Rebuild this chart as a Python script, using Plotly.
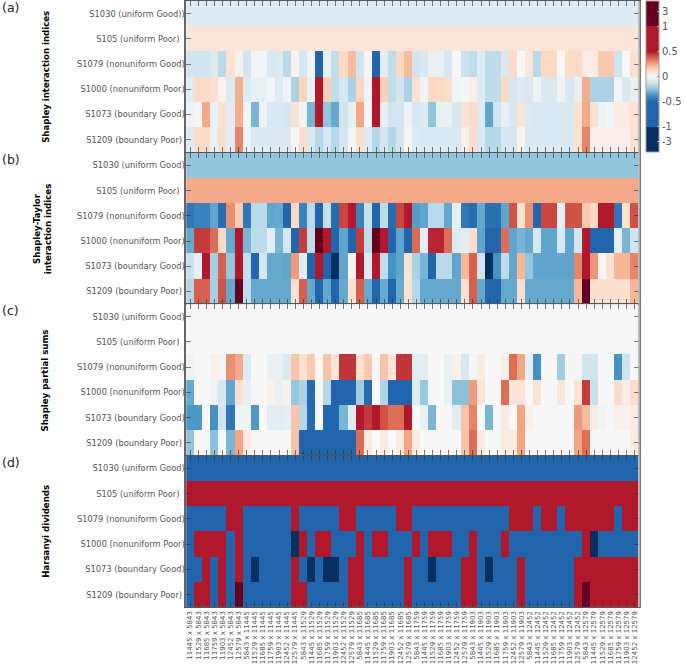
import numpy as np
import plotly.graph_objects as go

genes = [5843, 11445, 11529, 11685, 11759, 11903, 12452, 12579]
pairs = [f"{g} x {h}" for h in genes for g in genes if g != h]

rows_a = ["S1030 (uniform Good))", "S105 (uniform Poor)\u00a0\u00a0", "S1079 (nonuniform Good)",
          "S1000 (nonuniform Poor)", "S1073 (boundary Good)", "S1209 (boundary Poor)\u00a0"]
rows_o = ["S1030 (uniform Good)", "S105 (uniform Poor)\u00a0\u00a0", "S1079 (nonuniform Good)",
          "S1000 (nonuniform Poor)", "S1073 (boundary Good)", "S1209 (boundary Poor)\u00a0"]

# (a) Shapley interaction indices
a_s1030 = [-0.085] * 56
a_s105 = [0.08] * 56
a_s1079 = [-0.125,-0.125,-0.125,-0.09,-0.17,0.09,0.03,-0.12,-0.02,-0.02,-0.1,-0.09,-0.17,0.02,-0.11,-0.02,-0.5,-0.05,-0.16,0.13,0.2,-0.12,-0.01,-0.5,-0.07,-0.16,0.13,0.2,-0.125,
           -0.1,-0.05,-0.05,-0.11,0,-0.14,-0.16,-0.09,-0.16,-0.16,-0.1,0.125,0,0.08,-0.17,0.13,0.13,0,0.125,0.125,0.05,0.05,0.17,0.17,-0.13,0,0.11]
a_s1000 = [-0.07,0.125,0.125,0.1,0.03,-0.09,0.23,-0.09,-0.05,-0.05,-0.015,-0.09,-0.03,-0.2,0.14,-0.05,0.6,0.15,-0.16,-0.11,-0.2,0.14,-0.03,0.6,0.15,-0.16,-0.125,-0.2,0.1,
           -0.02,0.13,0.13,0.11,-0.03,-0.01,0.04,-0.09,-0.16,-0.16,0.13,-0.11,-0.08,-0.1,-0.03,-0.1,-0.1,-0.03,-0.1,-0.05,0.23,-0.2,-0.2,-0.2,-0.02,-0.1,-0.05]
a_s1073 = [-0.03,-0.01,0.24,-0.04,0.1,-0.07,0.23,-0.01,-0.29,-0.03,-0.1,-0.1,-0.11,0.09,-0.02,-0.29,0.6,-0.25,-0.32,-0.12,-0.05,0.25,0,0.6,-0.05,-0.12,-0.12,-0.03,-0.11,
           -0.09,-0.25,-0.05,-0.05,-0.1,0.08,0.12,-0.08,-0.33,-0.12,-0.05,-0.1,0.08,-0.09,-0.1,-0.1,-0.1,-0.1,-0.1,0.1,0.24,0.1,-0.04,-0.02,0.06,0.06,0.1]
a_s1209 = [-0.08,0.12,0.12,-0.05,0.11,-0.07,0.31,-0.03,-0.09,-0.09,-0.09,-0.09,-0.09,0.01,0.12,-0.1,-0.18,-0.11,-0.18,-0.12,0.01,0.11,-0.09,-0.18,-0.11,-0.18,-0.12,0.01,-0.08,
           -0.1,-0.1,-0.1,-0.1,-0.1,0.03,0.12,-0.1,-0.18,-0.18,-0.11,-0.11,0.02,-0.1,-0.1,-0.1,-0.1,-0.1,-0.1,0.1,0.31,0.035,0.035,0.035,0.035,0.035,0.09]

# (b) Shapley-Taylor interaction indices
b_s1030 = [-0.25] * 56
b_s105 = [0.24] * 56
b_s1079 = [-0.45,-0.42,-0.42,-0.33,-0.48,0.29,0.16,-0.45,-0.17,-0.17,-0.33,-0.32,-0.5,0.13,-0.42,-0.17,-0.5,-0.15,-0.48,0.42,0.55,-0.42,-0.14,-0.5,-0.16,-0.48,0.42,0.55,-0.35,
           -0.33,-0.17,-0.17,-0.32,-0.06,-0.45,-0.48,-0.32,-0.47,-0.47,-0.33,0.4,0.1,0.29,-0.5,0.42,0.42,-0.06,0.4,0.4,0.17,0.13,0.55,0.55,-0.45,0.1,0.4]
b_s1000 = [-0.32,0.44,0.44,0.35,0.125,-0.32,0.55,-0.29,-0.16,-0.16,-0.06,-0.29,-0.11,-0.5,0.44,-0.16,1.5,0.55,-0.5,-0.33,-0.5,0.44,-0.16,1.5,0.55,-0.5,-0.33,-0.5,0.35,
           -0.06,0.48,0.48,0.35,-0.08,-0.07,0.11,-0.33,-0.5,-0.5,0.35,-0.33,-0.29,-0.32,-0.11,-0.33,-0.33,-0.1,-0.33,-0.12,0.55,-0.5,-0.5,-0.5,-0.06,-0.29,-0.12]
b_s1073 = [-0.14,-0.06,0.55,-0.21,0.375,-0.25,0.55,-0.15,-0.5,-0.11,-0.32,-0.32,-0.33,0.27,-0.07,-0.5,0.55,-0.5,-1.5,-0.33,0.02,0.55,-0.08,0.55,-0.16,-0.375,-0.33,0.1,-0.2,
           -0.29,-0.5,-0.17,-0.17,-0.33,0.21,0.375,-0.12,-1.5,-0.375,-0.16,-0.33,0.21,-0.25,-0.33,-0.33,-0.33,-0.33,-0.33,0.31,0.55,0.28,0.01,0.1,0.21,0.21,0.31]
b_s1209 = [-0.18,0.375,0.375,-0.21,0.4,-0.32,1.5,-0.16,-0.32,-0.32,-0.32,-0.32,-0.32,0.1,0.375,-0.32,-0.5,-0.32,-0.5,-0.32,0.1,0.375,-0.32,-0.5,-0.32,-0.5,-0.32,0.1,-0.18,
           -0.32,-0.32,-0.32,-0.32,-0.32,0.1,0.375,-0.32,-0.5,-0.5,-0.32,-0.32,0.1,-0.32,-0.32,-0.32,-0.32,-0.32,-0.32,0.21,1.5,0.1,0.1,0.1,0.1,0.1,0.21]

# (c) Shapley partial sums
c_s1030 = [0] * 56
c_s105 = [0] * 56
c_s1079 = [-0.03,0,0,0.04,-0.02,0.29,0.24,-0.09,0,0,-0.05,-0.05,-0.1,0.18,0.1,0.17,0,0.18,0.08,0.45,0.45,0.1,0.17,0,0.18,0.08,0.45,0.45,-0.07,
           -0.07,0,0,-0.05,0.03,-0.11,-0.01,0.06,0,0,0.04,0.35,0.25,-0.06,-0.38,0,0,-0.22,-0.01,-0.01,-0.125,-0.125,0,0,-0.375,-0.13,0]
c_s1000 = [-0.32,0,0,-0.03,-0.11,-0.33,0.1,-0.05,0,0,0.03,-0.05,0.03,-0.24,-0.2,-0.48,0,-0.18,-0.5,-0.5,-0.5,-0.22,-0.48,0,-0.19,-0.5,-0.5,-0.5,-0.08,
           -0.24,0,0,-0.05,-0.26,-0.26,0.27,0.08,0,0,0.35,0.08,0.08,0,0.09,0,0,0.08,0,0.09,0.44,-0.14,0,0,0.12,0.05,0.12]
c_s1073 = [-0.36,-0.36,0,-0.38,-0.125,-0.45,-0.03,-0.03,-0.36,0,-0.07,-0.07,-0.06,0.18,-0.18,-0.48,0,-0.5,-0.5,-0.29,-0.07,0.55,0.44,0.55,0.4,0.35,0.35,0.55,0,
           -0.05,-0.29,0,0,-0.07,0.18,0.31,0,-0.29,0,0.06,0,0.25,0.03,0,0,0,0,0,0.27,0.2,0.05,-0.02,0,0.03,0.03,0.05]
c_s1209 = [-0.25,0,0,-0.26,0,-0.29,0.25,0.06,0,0,0,0,0,0.18,-0.5,-0.5,-0.5,-0.5,-0.5,-0.5,-0.5,0.35,0.06,0,0.06,0,0.06,0.25,0.06,
           0,0,0,0,0,0.18,0.35,0.06,0,0,0.06,0.06,0.25,0,0,0,0,0,0,0.25,0.35,0,0,0,0,0,0.06]

# (d) Harsanyi dividends
B, R, DB, DR = -0.75, 0.75, -1.5, 1.5
d_s1030 = [B] * 56
d_s105 = [R] * 56
d_s1079 = [B,B,B,B,B,R,R,B,B,B,B,B,B,R,B,B,B,B,B,R,R,B,B,B,B,B,R,R,B,
           B,B,B,B,B,B,B,B,B,B,B,R,R,R,B,R,R,B,R,R,R,R,R,R,B,R,R]
d_s1000 = [B,R,R,R,R,B,R,B,B,B,B,B,B,DB,R,B,R,R,B,B,B,R,B,R,R,B,B,B,R,
           B,R,R,R,B,B,R,B,B,B,R,B,B,B,B,B,B,B,B,B,R,DB,B,B,B,B,B]
d_s1073 = [B,B,R,B,R,B,R,B,DB,B,B,B,B,R,B,DB,B,DB,DB,B,R,R,B,B,B,B,B,R,B,
           B,DB,B,B,B,R,R,B,DB,B,B,B,R,B,B,B,B,B,B,R,R,R,R,R,R,R,R]
d_s1209 = [B,R,R,B,R,B,DR,B,B,B,B,B,B,R,R,B,B,B,B,B,R,R,B,B,B,B,B,R,B,
           B,B,B,B,B,R,R,B,B,B,B,B,R,B,B,B,B,B,B,R,DR,R,R,R,R,R,R]

panels = [
    [a_s1030, a_s105, a_s1079, a_s1000, a_s1073, a_s1209],
    [b_s1030, b_s105, b_s1079, b_s1000, b_s1073, b_s1209],
    [c_s1030, c_s105, c_s1079, c_s1000, c_s1073, c_s1209],
    [d_s1030, d_s105, d_s1079, d_s1000, d_s1073, d_s1209],
]
for p in panels:
    for r in p:
        assert len(r) == 56, len(r)

cb_vals = [3, 1, 0.5, 0, -0.5, -1, -3]
cb_text = ["3", "1", "0.5", "0", "-0.5", "-1", "-3"]
breaks = [-4.33, -1, -0.5, 0.5, 1, 4.33]
scaled = [-3, -2, -1, 1, 2, 3]


def scale(v):
    return np.interp(v, breaks, scaled)


def pos(u):
    return (u + 3) / 6


stops = [(-3, "#053061"), (-2, "#053061"), (-2, "#2166ac"), (-1, "#2166ac"), (-0.75, "#4393c3"),
         (-0.5, "#92c5de"), (-0.25, "#d1e5f0"), (0, "#f7f7f7"), (0.25, "#fddbc7"), (0.5, "#f4a582"),
         (0.75, "#d6604d"), (1, "#b2182b"), (2, "#b2182b"), (2, "#67001f"), (3, "#67001f")]
colorscale = [[pos(u), c] for u, c in stops]

W, H = 685, 664
tops = [0, 152.5, 304.5, 457]
PH = 152
xdom = [187.5 / W, 643.3 / W]

fig = go.Figure()
tick = "rgba(50,50,50,0.65)"
for i, p in enumerate(panels):
    n = "" if i == 0 else str(i + 1)
    rows = rows_a if i == 0 else rows_o
    fig.add_trace(go.Heatmap(z=scale(np.array(p, dtype=float)), x=pairs, y=rows,
                             coloraxis="coloraxis", xaxis=f"x{n}", yaxis=f"y{n}", zsmooth=False))
    fig.layout[f"xaxis{n}"] = dict(
        domain=xdom, anchor=f"y{n}", type="category", tickmode="array", tickvals=pairs,
        ticktext=pairs if i == 3 else [""] * 56, ticks="inside", ticklen=5, tickwidth=1, tickcolor=tick,
        tickangle=-90, tickfont=dict(family="DejaVu Sans", size=7, color="#555"), mirror="allticks",
        showline=True, linecolor="#555", linewidth=1, showgrid=False, zeroline=False)
    fig.layout[f"yaxis{n}"] = dict(
        domain=[1 - (tops[i] + PH) / H, 1 - tops[i] / H], anchor=f"x{n}", type="category",
        autorange="reversed", tickmode="array", tickvals=rows, ticktext=rows, ticks="inside",
        ticklen=5, tickwidth=1, tickcolor=tick, tickfont=dict(family="DejaVu Sans", size=8.3, color="#555"),
        ticklabelstandoff=-2, mirror="allticks", showline=True, linecolor="#666", linewidth=1.5,
        showgrid=False, zeroline=False)

fig.update_layout(
    width=W, height=H, margin=dict(l=0, r=0, t=0, b=0), autosize=False, paper_bgcolor="white",
    plot_bgcolor="white", font=dict(family="DejaVu Sans"),
    coloraxis=dict(
        colorscale=colorscale, cmin=-3, cmax=3,
        colorbar=dict(x=651 / W, xanchor="left", y=1, yanchor="top", len=PH / H, lenmode="fraction",
                      thickness=13, thicknessmode="pixels", xpad=0, ypad=0, outlinecolor="#999",
                      outlinewidth=1, tickmode="array", tickvals=[float(scale(v)) for v in cb_vals],
                      ticktext=cb_text, ticks="inside", ticklen=2, tickcolor="#aaa",
                      tickfont=dict(family="DejaVu Sans", size=10, color="#555"))),
)

titles = [("Shapley interaction indices", 45.5, 76), ("Shapley-Taylor<br>interaction indices", 43.5, 229),
          ("Shapley partial sums", 45.5, 381), ("Harsanyi dividends", 45.5, 533)]
for t, x, y in titles:
    fig.add_annotation(text=f"<b>{t}</b>", x=x / W, y=1 - y / H, xref="paper", yref="paper", textangle=-90,
                       showarrow=False, font=dict(family="DejaVu Sans", size=8.6, color="black"),
                       xanchor="center", yanchor="middle", align="center")
for t, y in [("(a)", 7), ("(b)", 159), ("(c)", 311), ("(d)", 464)]:
    fig.add_annotation(text=t, x=0, y=1 - y / H, xref="paper", yref="paper", showarrow=False,
                       font=dict(family="DejaVu Sans", size=12.5, color="#222"), xanchor="left", yanchor="middle")

# lighter frame edge on the right of the stacked panels
fig.add_shape(type="line", xref="paper", yref="paper", x0=644 / W, x1=644 / W, y0=1 - 609 / H, y1=1,
              line=dict(color="#aaa", width=2))

fig.write_html("out.html", config={"displayModeBar": False},
               post_script="document.body.style.margin='0';document.body.style.overflow='hidden';")
